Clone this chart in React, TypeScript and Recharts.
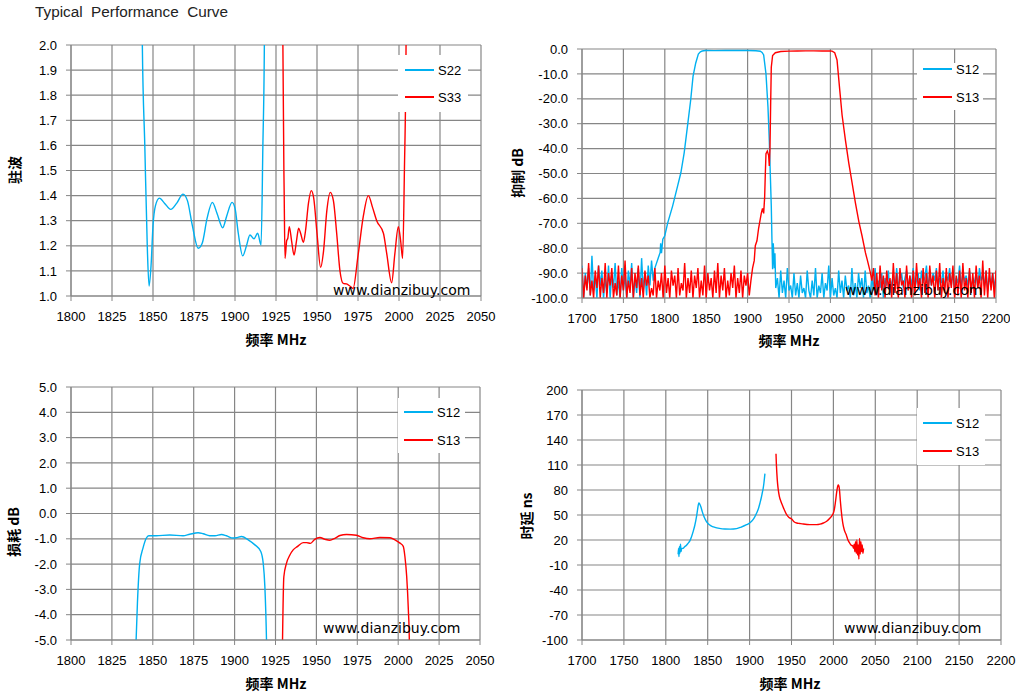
import { LineChart, Line, XAxis, YAxis, CartesianGrid } from 'recharts';

// ---------- VSWR (top left) ----------
const vswrFreq = [1800, 1825, 1850, 1875, 1900, 1925, 1950, 1975, 2000, 2025, 2050];
const vswrTicks = [1.0, 1.1, 1.2, 1.3, 1.4, 1.5, 1.6, 1.7, 1.8, 1.9, 2.0];

const s22Freq = [1842.5, 1843.5, 1845, 1846.5, 1847.6, 1848.8, 1850, 1851.5, 1853.9, 1857, 1860.8, 1864.5, 1868.3, 1871, 1874, 1877.6, 1880, 1883, 1886.2, 1889, 1892.5, 1895, 1898.2, 1900, 1902, 1904.7, 1907, 1909.1, 1911.6, 1913.8, 1915.9, 1917, 1917.9, 1918.5];
const s22Vswr = [3.0, 2.0, 1.6, 1.2, 1.04, 1.12, 1.28, 1.36, 1.39, 1.37, 1.345, 1.37, 1.406, 1.38, 1.28, 1.19, 1.21, 1.31, 1.373, 1.33, 1.272, 1.32, 1.373, 1.35, 1.25, 1.16, 1.2, 1.243, 1.228, 1.25, 1.203, 1.6, 2.0, 3.0];

const s33Freq = [1928.8, 1929.2, 1930, 1930.5, 1931.5, 1932.2, 1933.1, 1934.5, 1936, 1937.5, 1938.8, 1940, 1941.7, 1943, 1944.8, 1946.5, 1948, 1950, 1952.2, 1954, 1956, 1958.1, 1960, 1962, 1964, 1966, 1968, 1970, 1972, 1975, 1978.3, 1981.3, 1984, 1986.4, 1990.5, 1992.5, 1995.5, 1997.5, 1999.6, 2001, 2002.2, 2003.3, 2004.3, 2004.8];
const s33Vswr = [3.0, 2.0, 1.4, 1.15, 1.22, 1.23, 1.276, 1.22, 1.163, 1.22, 1.27, 1.25, 1.214, 1.26, 1.37, 1.42, 1.39, 1.25, 1.114, 1.18, 1.34, 1.413, 1.38, 1.25, 1.1, 1.05, 1.048, 1.04, 1.03, 1.16, 1.32, 1.40, 1.35, 1.30, 1.25, 1.17, 1.053, 1.17, 1.276, 1.22, 1.15, 1.5, 2.0, 3.0];

// ---------- Rejection (top right) ----------
const wideFreq = [1700, 1750, 1800, 1850, 1900, 1950, 2000, 2050, 2100, 2150, 2200];
const rejTicks = [-100, -90, -80, -70, -60, -50, -40, -30, -20, -10, 0];

// S12 noise floor below the band, 1700..1788 every 2 MHz
const s12RejLowNoise = [-87, -100, -90, -96, -88, -99, -83, -97, -91, -100, -87, -95, -89, -100, -92, -98, -87, -100, -90, -96,
  -86, -99, -93, -100, -88, -97, -91, -100, -89, -95, -86, -100, -92, -98, -88, -100, -84, -97, -90, -99,
  -87, -95, -85, -93, -88];
const s12RejFreq = [1790, 1792, 1794.4, 1795, 1796, 1797.6, 1800, 1803.6, 1809.5, 1815.5, 1819.4, 1823.4, 1827.4, 1831.3, 1834.1, 1837.3, 1840.5, 1843, 1845.2, 1849, 1860, 1873, 1885, 1900, 1910, 1915.3, 1917.5, 1919.4, 1922.2, 1924.6, 1926.2, 1927.4, 1928.6, 1929.4, 1930.2, 1931, 1932.3, 1933, 1934];
const s12RejVal = [-86, -84, -81.7, -78, -82, -76.4, -75, -69.7, -63, -55, -49.7, -41.7, -31, -20.4, -11, -5.7, -2, -1.1, -0.8, -0.6, -0.65, -0.6, -0.6, -0.6, -0.7, -0.9, -1.4, -2.4, -10, -23.3, -36.7, -50, -63, -76.5, -88.4, -78, -88, -82, -96];
// S12 noise floor above the band, 1936..2200 every 2 MHz
const s12RejHighNoise = [-92, -100, -89, -98, -93, -100, -88, -97, -95, -100, -90, -99, -94, -100, -91, -98, -96, -100, -89, -97,
  -100, -93, -99, -88, -100, -95, -98, -90, -100, -94, -97, -87, -100, -92, -99, -96, -100, -89, -98, -93,
  -100, -91, -97, -95, -100, -88, -99, -94, -100, -90, -96, -92, -100, -89, -98, -95, -100, -91, -97, -88,
  -99, -93, -96, -90, -100, -92, -95, -89, -98, -94, -91, -97, -88, -95, -93, -90, -96, -92, -89, -97,
  -91, -95, -88, -96, -93, -90, -97, -89, -94, -92, -87, -96, -91, -95, -90, -93, -88, -97, -92, -94,
  -89, -96, -91, -93, -88, -95, -90, -97, -92, -94, -87, -96, -90, -93, -91, -95, -89, -97, -92, -94,
  -90, -96, -88, -93, -91, -95, -89, -97, -92, -94, -90, -96, -91];

// S13 noise floor below the band, 1700..1904 every 2 MHz
const s13RejLowNoise = [-88, -100, -91, -97, -86, -99, -93, -100, -89, -96, -87, -100, -92, -98, -86, -100, -90, -95, -88, -100,
  -94, -99, -87, -100, -91, -97, -85, -100, -93, -98, -88, -100, -90, -96, -87, -99, -92, -100, -89, -95,
  -91, -100, -96, -99, -88, -100, -93, -97, -90, -100, -87, -98, -92, -100, -89, -95, -91, -100, -88, -99,
  -94, -97, -86, -100, -92, -98, -89, -100, -91, -96, -88, -100, -93, -99, -87, -100, -90, -97, -92, -100,
  -89, -98, -86, -100, -91, -97, -88, -100, -93, -99, -90, -96, -87, -100, -92, -98, -89, -100, -91, -95,
  -90, -99, -93];
const s13RejFreq = [1906, 1908, 1909.3, 1911.3, 1913.3, 1916.5, 1918, 1919.4, 1920.6, 1921.4, 1922.2, 1923.8, 1925.4, 1926.2, 1927, 1927.8, 1928.6, 1930.2, 1933.5, 1940, 1950, 1960, 1970, 1980, 1990, 2000, 2002, 2005.2, 2008, 2011.3, 2014.1, 2018.1, 2022.2, 2026.2, 2030.2, 2034.3, 2038.3, 2040.3, 2042.3, 2044.4, 2046.4, 2048.4];
const s13RejVal = [-88, -85, -79, -77, -72, -66, -64, -66, -59.5, -50, -42, -41, -42.7, -47, -40.5, -23, -7.3, -2.6, -1.5, -1.0, -0.85, -0.8, -0.75, -0.75, -0.8, -0.75, -0.85, -1.5, -4.4, -16.5, -26.5, -36.5, -45.8, -53.8, -61.8, -69.2, -75.2, -78.5, -81.8, -84.5, -87.2, -90];
// S13 noise floor above the band, 2050..2200 every 2 MHz
const s13RejHighNoise = [-93, -88, -99, -90, -100, -87, -97, -91, -100, -89, -96, -92, -100, -86, -98, -90, -100, -88, -95, -93,
  -100, -87, -97, -91, -100, -89, -99, -86, -96, -92, -100, -88, -98, -90, -100, -87, -95, -91, -100, -89,
  -97, -86, -100, -92, -98, -88, -100, -90, -96, -87, -100, -91, -99, -89, -100, -86, -97, -92, -100, -88,
  -98, -90, -100, -87, -96, -91, -100, -85, -99, -89, -100, -88, -97, -90, -100, -89];

// ---------- Insertion loss (bottom left) ----------
const lossTicks = [-5, -4, -3, -2, -1, 0, 1, 2, 3, 4, 5];
const s12LossFreq = [1839.4, 1839.8, 1840.6, 1842, 1844, 1846, 1847.5, 1852, 1860.4, 1868.5, 1872.6, 1877.7, 1880.8, 1884.8, 1888, 1892, 1895, 1899, 1901, 1904.2, 1908.3, 1912.4, 1916, 1917.5, 1918.5, 1919.5, 1919.8];
const s12Loss = [-6, -5, -3.55, -1.97, -1.37, -0.98, -0.88, -0.88, -0.85, -0.88, -0.82, -0.76, -0.8, -0.88, -0.88, -0.83, -0.88, -0.97, -0.96, -0.91, -1.04, -1.24, -1.5, -1.97, -2.89, -5, -6];
const s13LossFreq = [1929.1, 1929.3, 1930.1, 1931.7, 1933.8, 1935.8, 1938.5, 1941.9, 1944, 1946.4, 1949, 1952.1, 1955.2, 1958.2, 1961.3, 1964.4, 1968.4, 1974.5, 1978.6, 1982.7, 1988.8, 1995, 1998, 2001.1, 2003.1, 2004.1, 2005.2, 2006.2, 2006.8, 2007];
const s13Loss = [-6, -5, -2.5, -1.97, -1.64, -1.44, -1.3, -1.15, -1.15, -1.18, -1.02, -0.95, -1.02, -1.06, -0.98, -0.87, -0.83, -0.86, -0.96, -1.0, -0.95, -0.96, -1.04, -1.17, -1.3, -1.7, -2.5, -3.8, -5, -6];

// ---------- Group delay (bottom right) ----------
const delayTicks = [-100, -70, -40, -10, 20, 50, 80, 110, 140, 170, 200];
const s12DelayFreq = [1814.7, 1815.2, 1815.7, 1816.2, 1816.8, 1817.5, 1818.2, 1819, 1820.7, 1822.5, 1824.7, 1826.5, 1828.7, 1830.7, 1832.7, 1834.7, 1836.7, 1838, 1839.4, 1840.5, 1841.8, 1843.5, 1845.4, 1848, 1850.6, 1854, 1858.6, 1864, 1870.5, 1877, 1884.5, 1890, 1896.4, 1899.5, 1902.4, 1905.5, 1908.4, 1910.5, 1912.4, 1914, 1915.1, 1916.2, 1917.1, 1918.3];
const s12Delay = [3, 10, 0, 12, 4, 15, 6, 10, 10, 12, 13.6, 16, 19, 24, 30.4, 38, 48.4, 57, 64.4, 63, 60, 54, 48.4, 43, 39.6, 37, 35.2, 34, 33.2, 33, 33.6, 35.5, 38.4, 40, 42.4, 46.5, 52.4, 57.5, 64.4, 71, 76.4, 82, 88.4, 99.6];
const s13DelayFreq = [1931.5, 1932, 1933, 1934, 1935.5, 1937.5, 1939.4, 1941.5, 1944.2, 1947, 1950.2, 1953, 1956.2, 1960, 1964.1, 1972, 1980, 1984, 1988, 1992, 1996, 1998.5, 2000, 2001.2, 2002.5, 2004, 2005.2, 2006, 2007.2, 2008.2, 2009.2, 2011.1, 2013, 2015.1, 2017, 2019.1, 2021, 2023.1, 2024, 2024.8, 2025.6, 2026.4, 2027.2, 2028, 2028.8, 2029.6, 2030.4, 2031.2, 2032, 2032.8, 2033.6, 2034.4, 2035.2, 2036];
const s13Delay = [123.6, 110, 92.4, 82, 72.4, 66, 61.2, 56, 50.4, 47, 45.2, 42, 40.4, 39.8, 39.2, 38.5, 38.4, 39, 40.4, 42.5, 46.4, 49.5, 52.4, 57, 66, 78, 84.8, 86, 80.8, 68, 56.8, 40.8, 32, 26.8, 21, 16.8, 14, 12.8, 10, 15, 6, 18, 4, 20, 2, 14, -3, 22, 3, 18, 6, 14, 4, 10];

const BLUE = '#00B0F0';
const RED = '#FF0000';
const GRID = '#868686';
const TICK_FONT = 'Tahoma, "Liberation Sans", sans-serif';
const LABEL_FONT = '"Noto Sans CJK SC", sans-serif';

const pairs = (fs: number[], vs: number[]) => fs.map((f, i) => ({ f, v: vs[i] }));
const sampled = (start: number, step: number, vs: number[]) => vs.map((v, i) => ({ f: start + i * step, v }));

const s12Rej = [...sampled(1700, 2, s12RejLowNoise), ...pairs(s12RejFreq, s12RejVal), ...sampled(1936, 2, s12RejHighNoise)];
const s13Rej = [...sampled(1700, 2, s13RejLowNoise), ...pairs(s13RejFreq, s13RejVal), ...sampled(2050, 2, s13RejHighNoise)];

interface Series { name: string; color: string; data: { f: number; v: number }[]; curve: 'monotone' | 'linear' }

interface PanelProps {
  box: { x: number; y: number; w: number; h: number };
  margin: { top: number; right: number; bottom: number };
  yWidth: number;
  xTicks: number[];
  yTicks: number[];
  yFormat: (v: number) => string;
  series: Series[];
  yLabel: string;
  yLabelAt: [number, number];
  xLabelAt: [number, number];
  legend: { x: number; y: number; w: number; h: number; rows: number[]; lineX: number };
  mark: [number, number];
}

function Panel(p: PanelProps) {
  const { box, legend } = p;
  return (
    <>
      <div style={{ position: 'absolute', left: box.x, top: box.y }}>
        <LineChart width={box.w} height={box.h} margin={{ top: p.margin.top, right: p.margin.right, bottom: p.margin.bottom, left: 0 }}>
          <CartesianGrid stroke={GRID} strokeWidth={1.2} />
          <XAxis
            dataKey="f"
            type="number"
            domain={[p.xTicks[0], p.xTicks[p.xTicks.length - 1]]}
            ticks={p.xTicks}
            interval={0}
            height={30}
            tickSize={5}
            tickMargin={11}
            stroke={GRID}
            tick={{ fontSize: 13, fill: '#000', fontFamily: TICK_FONT }}
            allowDataOverflow
          />
          <YAxis
            dataKey="v"
            type="number"
            domain={[p.yTicks[0], p.yTicks[p.yTicks.length - 1]]}
            ticks={p.yTicks}
            interval={0}
            width={p.yWidth}
            tickSize={5}
            tickMargin={9}
            stroke={GRID}
            tick={{ fontSize: 13, fill: '#000', fontFamily: TICK_FONT }}
            tickFormatter={p.yFormat}
            allowDataOverflow
          />
          {p.series.map((s) => (
            <Line
              key={s.name}
              data={s.data}
              dataKey="v"
              name={s.name}
              type={s.curve}
              stroke={s.color}
              strokeWidth={1.4}
              dot={false}
              isAnimationActive={false}
            />
          ))}
        </LineChart>
      </div>
      <div style={{ position: 'absolute', left: legend.x, top: legend.y, width: legend.w, height: legend.h, background: '#fff' }}>
        {p.series.map((s, i) => (
          <div key={s.name} style={{ position: 'absolute', left: legend.lineX, top: legend.rows[i] - legend.y - 9, height: 18, display: 'flex', alignItems: 'center' }}>
            <div style={{ width: 29, height: 1.3, background: s.color }} />
            <span style={{ marginLeft: 4, fontSize: 13, fontFamily: TICK_FONT, color: '#000' }}>{s.name}</span>
          </div>
        ))}
      </div>
      <div style={{ position: 'absolute', left: p.mark[0], top: p.mark[1] - 9, fontSize: 14, fontFamily: '"DejaVu Sans", sans-serif', color: '#000', lineHeight: '18px' }}>
        www.dianzibuy.com
      </div>
      <div style={{ position: 'absolute', left: p.yLabelAt[0], top: p.yLabelAt[1], transform: 'translate(-50%, -50%) rotate(-90deg)', whiteSpace: 'nowrap', fontSize: 14, fontWeight: 700, fontFamily: LABEL_FONT }}>
        {p.yLabel}
      </div>
      <div style={{ position: 'absolute', left: p.xLabelAt[0], top: p.xLabelAt[1], transform: 'translate(-50%, -50%)', whiteSpace: 'nowrap', fontSize: 14, fontWeight: 700, fontFamily: LABEL_FONT }}>
        频率 MHz
      </div>
    </>
  );
}

export default function App() {
  return (
    <div style={{ position: 'absolute', left: 0, top: 0, width: 1026, height: 699, background: '#fff', overflow: 'hidden' }}>
      <div style={{ position: 'absolute', left: 35, top: 3, fontSize: 15.3, fontFamily: '"Liberation Sans", sans-serif', color: '#222', whiteSpace: 'pre' }}>
        Typical  Performance  Curve
      </div>
      <Panel
        box={{ x: 0, y: 30, w: 500, h: 300 }}
        margin={{ top: 15, right: 19, bottom: 4 }}
        yWidth={71}
        xTicks={vswrFreq}
        yTicks={vswrTicks}
        yFormat={(v) => v.toFixed(1)}
        series={[
          { name: 'S22', color: BLUE, data: pairs(s22Freq, s22Vswr), curve: 'monotone' },
          { name: 'S33', color: RED, data: pairs(s33Freq, s33Vswr), curve: 'monotone' },
        ]}
        yLabel="驻波"
        yLabelAt={[14, 170]}
        xLabelAt={[276, 339]}
        legend={{ x: 398, y: 55, w: 70, h: 57, rows: [70, 97], lineX: 7 }}
        mark={[333, 290]}
      />
      <Panel
        box={{ x: 510, y: 30, w: 500, h: 300 }}
        margin={{ top: 19, right: 14, bottom: 2 }}
        yWidth={72}
        xTicks={wideFreq}
        yTicks={rejTicks}
        yFormat={(v) => v.toFixed(1)}
        series={[
          { name: 'S12', color: BLUE, data: s12Rej, curve: 'linear' },
          { name: 'S13', color: RED, data: s13Rej, curve: 'linear' },
        ]}
        yLabel="抑制 dB"
        yLabelAt={[517, 173]}
        xLabelAt={[789, 340]}
        legend={{ x: 917, y: 63, w: 66, h: 47, rows: [69, 97], lineX: 6 }}
        mark={[845, 290]}
      />
      <Panel
        box={{ x: 0, y: 370, w: 500, h: 300 }}
        margin={{ top: 17, right: 20, bottom: 0 }}
        yWidth={71}
        xTicks={vswrFreq}
        yTicks={lossTicks}
        yFormat={(v) => v.toFixed(1)}
        series={[
          { name: 'S12', color: BLUE, data: pairs(s12LossFreq, s12Loss), curve: 'monotone' },
          { name: 'S13', color: RED, data: pairs(s13LossFreq, s13Loss), curve: 'monotone' },
        ]}
        yLabel="损耗 dB"
        yLabelAt={[13, 532]}
        xLabelAt={[276, 683]}
        legend={{ x: 398, y: 398, w: 67, h: 55, rows: [412, 440], lineX: 6 }}
        mark={[323, 628]}
      />
      <Panel
        box={{ x: 510, y: 370, w: 516, h: 300 }}
        margin={{ top: 20, right: 25, bottom: 0 }}
        yWidth={72}
        xTicks={wideFreq}
        yTicks={delayTicks}
        yFormat={(v) => String(v)}
        series={[
          { name: 'S12', color: BLUE, data: pairs(s12DelayFreq, s12Delay), curve: 'monotone' },
          { name: 'S13', color: RED, data: pairs(s13DelayFreq, s13Delay), curve: 'monotone' },
        ]}
        yLabel="时延 ns"
        yLabelAt={[526, 516]}
        xLabelAt={[790, 683]}
        legend={{ x: 917, y: 408, w: 68, h: 57, rows: [423, 451], lineX: 6 }}
        mark={[844, 628]}
      />
    </div>
  );
}
